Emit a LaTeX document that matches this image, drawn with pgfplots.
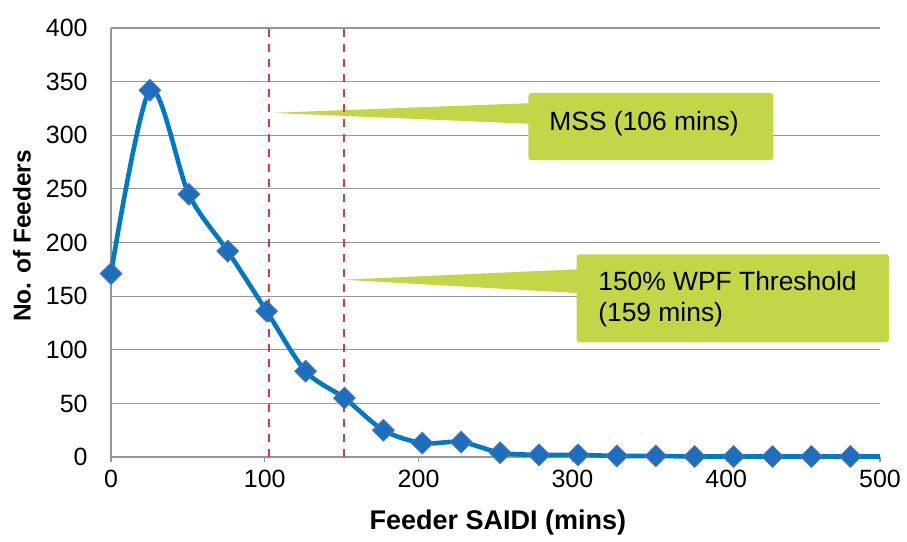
\documentclass[border=0pt]{standalone}
\usepackage{fontspec}
\setmainfont{Liberation Sans}
\usepackage{pgfplots}
\pgfplotsset{compat=1.18}
\definecolor{lineblue}{RGB}{0,120,196}
\definecolor{markblue}{RGB}{30,110,190}
\definecolor{markedge}{RGB}{70,115,185}
\definecolor{callout}{RGB}{196,214,72}
\definecolor{dashred}{RGB}{200,64,64}
\definecolor{gridgray}{RGB}{150,150,150}
\pgfplotstableread{
x y
0 171
25.3 342
50.6 245
75.9 192
101.2 136
126.5 80
151.8 55
177.1 25
202.4 13
227.7 14
253 4
278.3 2
303.6 2
328.9 1
354.2 1
379.5 0.5
404.8 0.5
430.1 0.5
455.4 0.5
480.7 0.5
}\feeders
\pgfplotstableread{
x y
0 171
25.3 342
50.6 245
75.9 192
101.2 136
126.5 80
151.8 55
177.1 25
202.4 13
227.7 14
253 4
278.3 2
303.6 2
328.9 1
354.2 1
379.5 0.5
404.8 0.5
430.1 0.5
455.4 0.5
480.7 0.5
500 0.5
}\feedersline
\begin{document}
\begin{tikzpicture}
\begin{axis}[
  scale only axis, width=384.5pt, height=214.5pt,
  xmin=0, xmax=500, ymin=0, ymax=400,
  xtick={0,100,...,500}, ytick={0,50,...,400},
  axis x line*=bottom, axis y line*=left,
  axis line style={gridgray, line width=0.6pt, -},
  ymajorgrids, major grid style={gridgray, line width=0.6pt},
  tick align=outside, major tick length=2.5pt,
  xtick style={gridgray, line width=0.6pt},
  ytick style={draw=none},
  font=\fontsize{12.5}{15}\selectfont,
  ticklabel style={font=\fontsize{12.5}{15}\selectfont, inner sep=0pt},
  xticklabel shift=4pt,
  yticklabel shift=9pt,
  /pgf/number format/assume math mode=true,
  xlabel={\textbf{Feeder SAIDI (mins)}},
  ylabel={\textbf{No. of Feeders}},
  xlabel style={at={(rel axis cs:0.503,-0.1515)}, anchor=center, font=\fontsize{13.5}{16}\selectfont},
  ylabel style={at={(rel axis cs:-0.1157,0.515)}, anchor=center, font=\fontsize{12.2}{15}\selectfont},
  clip=false,
]
\path (rel axis cs:-0.1443,-0.1911) rectangle (rel axis cs:1.0351,1.0653);
% callouts
\fill[callout, rounded corners=1.5pt] (axis cs:271.4,276.7) rectangle (axis cs:430.6,339.5);
\fill[callout] (axis cs:104.9,320.9) -- (axis cs:272,329.9) -- (axis cs:272,310.7) -- cycle;
\fill[callout, rounded corners=1.5pt] (axis cs:302.7,107) rectangle (axis cs:505.9,189);
\fill[callout] (axis cs:150.8,165.3) -- (axis cs:303.5,175.1) -- (axis cs:303.5,152.9) -- cycle;
\node[anchor=base west, inner sep=0pt, font=\fontsize{13.2}{16}\selectfont] at (axis cs:284.8,304.5) {MSS (106 mins)};
\node[anchor=base west, inner sep=0pt, font=\fontsize{13.2}{16}\selectfont] at (axis cs:316.6,155.3) {150\% WPF Threshold};
\node[anchor=base west, inner sep=0pt, font=\fontsize{13.2}{16}\selectfont] at (axis cs:316.6,125.9) {(159 mins)};
% dashed markers
\addplot[dashred, line width=1.1pt, dash pattern=on 4pt off 3.5pt] coordinates {(102.8,0) (102.8,400)};
\addplot[dashred, line width=1.1pt, dash pattern=on 4pt off 3.5pt] coordinates {(151.6,0) (151.6,400)};
% data
\addplot[lineblue, line width=2.3pt, smooth, no markers] table {\feedersline};
\addplot[only marks, mark=square*, mark size=3.8pt,
  mark options={rotate=45, fill=markblue, draw=markedge, line width=0.5pt}] table {\feeders};
\end{axis}
\end{tikzpicture}
\end{document}
